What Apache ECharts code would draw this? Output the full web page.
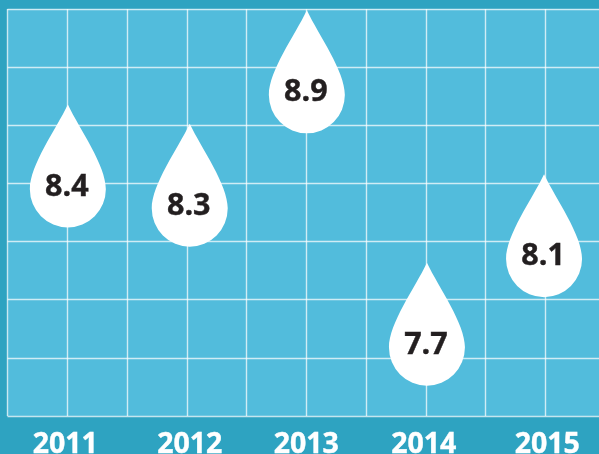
<!DOCTYPE html>
<html><head><meta charset="utf-8">
<style>html,body{margin:0;padding:0;background:#2ea3c1;overflow:hidden}#c{width:599px;height:454px}</style>
<script src="https://cdn.jsdelivr.net/npm/echarts@6/dist/echarts.min.js"></script>
</head><body><div id="c"></div>
<script>
const years = ['2011', '2012', '2013', '2014', '2015'];
const printedValues = ['8.4', '8.3', '8.9', '7.7', '8.1'];
// The drops in the reference are not on a linear scale of the printed values,
// so their placement is read off the picture, in grid cells from the lower left.
const dropColumns = [1.01, 3.05, 5.01, 7.02, 8.98];
const dropHeights = [4.30, 3.97, 5.92, 1.58, 3.10];

const chart = echarts.init(document.getElementById('c'), null, {renderer: 'canvas'});
const gridLine = {show: true, lineStyle: {color: 'rgba(255,255,255,0.72)', width: 1.4}};
const rows = dropColumns.map((x, i) => [x, dropHeights[i], printedValues[i]]);
const yearFont = {color: '#fff', fontFamily: 'Open Sans', fontWeight: 'bold', fontSize: 28.5, textBorderColor: '#fff', textBorderWidth: 0.4};
chart.setOption({
  animation: false,
  backgroundColor: '#2ea3c1',
  grid: {left: 7.5, top: 9, width: 597.5, height: 407, show: true, backgroundColor: '#52bcdc', borderWidth: 0, outerBoundsMode: 'none', containLabel: false},
  xAxis: {
    type: 'value', min: 0, max: 10, interval: 1,
    axisLine: {show: false}, axisTick: {show: false}, splitLine: gridLine,
    axisLabel: {
      show: true, margin: 14, ...yearFont,
      hideOverlap: false, showMinLabel: true, showMaxLabel: true,
      formatter: v => v % 2 === 1 ? `{y${(v - 1) / 2}|${years[(v - 1) / 2]}}` : '',
      rich: {
        y0: {...yearFont, padding: [0, 4, 0, 0]},
        y1: {...yearFont, padding: [0, 0, 0, 6]},
        y2: {...yearFont},
        y3: {...yearFont, padding: [0, 4, 0, 0]},
        y4: {...yearFont, padding: [0, 0, 0, 4]}
      }
    }
  },
  yAxis: {
    type: 'value', min: 0, max: 7, interval: 1,
    axisLine: {show: false}, axisTick: {show: false}, axisLabel: {show: false}, splitLine: gridLine
  },
  series: [{
    type: 'scatter',
    data: rows,
    encode: {x: 0, y: 1},
    symbol: 'path://M38 0C50 25 76 60 76 84A38 38 0 0 1 0 84C0 60 26 25 38 0Z',
    symbolSize: [76, 123],
    itemStyle: {color: '#fff', opacity: 1},
    label: {
      show: true, position: 'inside', offset: [-1, 21],
      formatter: p => p.value[2],
      color: '#231f20', fontFamily: 'Open Sans', fontWeight: 'bold', fontSize: 30.5,
      textBorderColor: '#231f20', textBorderWidth: 0.4
    }
  }]
});
</script></body></html>
